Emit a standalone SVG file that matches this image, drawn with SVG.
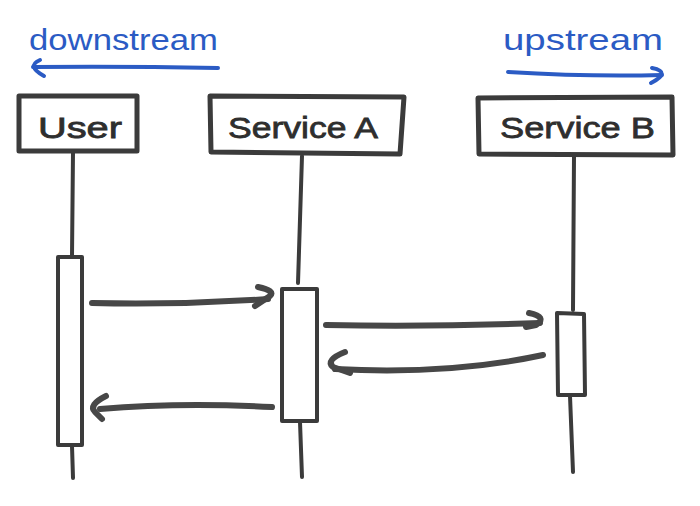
<svg xmlns="http://www.w3.org/2000/svg" width="700" height="506" viewBox="0 0 700 506">
<style>
.ln{fill:none;stroke:#3b3b3b;stroke-width:4;stroke-linecap:round;stroke-linejoin:round}
.box{fill:#fff;stroke:#3b3b3b;stroke-width:5;stroke-linejoin:round}
.act{fill:#fff;stroke:#3b3b3b;stroke-width:4;stroke-linejoin:round}
.msg{fill:none;stroke:#474747;stroke-width:6;stroke-linecap:round;stroke-linejoin:round}
.bl{fill:none;stroke:#2b5bc4;stroke-width:4;stroke-linecap:round;stroke-linejoin:round}
.lbl{font-family:"Liberation Sans",Arial,sans-serif;font-size:30px;fill:#2e2e2e;stroke:#2e2e2e;stroke-width:0.8}
.btx{font-family:"Liberation Sans",Arial,sans-serif;font-size:30px;fill:#2b5bc4}
</style>
<rect width="700" height="506" fill="#fff"/>
<g id="direction">
<text class="btx" x="29" y="50" textLength="189" lengthAdjust="spacingAndGlyphs">downstream</text>
<path class="bl" d="M218 68 Q120 66 33 67"/>
<path class="bl" d="M40 60 Q26 66 44 76"/>
<text class="btx" x="503" y="50" textLength="160" lengthAdjust="spacingAndGlyphs">upstream</text>
<path class="bl" d="M508 72 Q590 77 662 75"/>
<path class="bl" d="M652 68 Q672 72 651 83"/>
</g>
<g id="lifelines">
<path class="ln" d="M73 152 L72 257 M72 446 L73 478"/>
<path class="ln" d="M302 156 L298 283 M300 422 L302 477"/>
<path class="ln" d="M574 156 L573 310 M570 396 L573 472"/>
</g>
<g id="user">
<rect class="box" x="19" y="96" width="118" height="55"/>
<text class="lbl" x="38" y="138" textLength="84" lengthAdjust="spacingAndGlyphs">User</text>
</g>
<g id="serviceA">
<path class="box" d="M210 96 L404 97 L400 154 L211 152 Z"/>
<text class="lbl" x="228" y="138" textLength="150" lengthAdjust="spacingAndGlyphs">Service A</text>
</g>
<g id="serviceB">
<path class="box" d="M478 98 L672 97 L673 155 L479 154 Z"/>
<text class="lbl" x="500" y="138" textLength="155" lengthAdjust="spacingAndGlyphs">Service B</text>
</g>
<g id="activations">
<rect class="act" x="58" y="257" width="24" height="188"/>
<rect class="act" x="282" y="289" width="35" height="132"/>
<path class="act" d="M557 313 L584 314 L585 395 L558 395 Z"/>
</g>
<g id="connectors">
<path class="msg" d="M92 303 Q180 305 268 299"/>
<path class="msg" d="M258 287 Q276 291 270 296 L255 306"/>
<path class="msg" d="M326 325 Q430 327 540 323"/>
<path class="msg" d="M529 313 Q548 317 536 325 L526 327"/>
<path class="msg" d="M543 355 Q450 375 335 369"/>
<path class="msg" d="M345 352 Q325 360 333 367 L350 373"/>
<path class="msg" d="M272 407 Q180 402 100 409"/>
<path class="msg" d="M106 396 Q88 405 95 412 L102 419"/>
</g>
</svg>
